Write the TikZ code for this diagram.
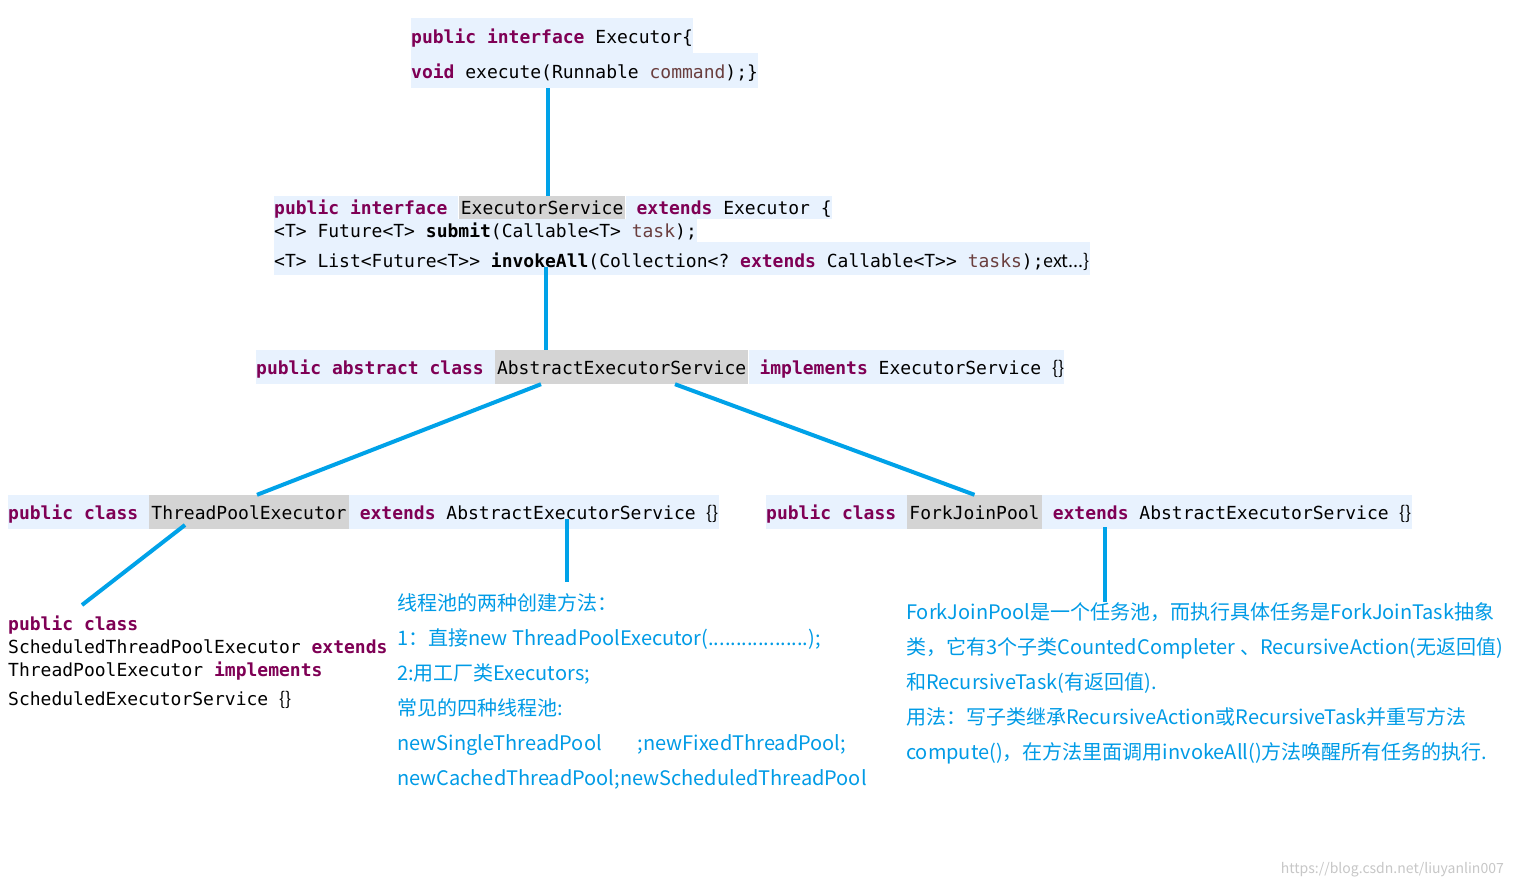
\documentclass[tikz,border=0pt]{standalone}
\usepackage{fontspec}
\usepackage{xcolor}
\newfontfamily\codefont{DejaVu Sans Mono}
\newfontfamily\zhfont{Noto Sans CJK SC}
\definecolor{codebg}{RGB}{232,242,254}
\definecolor{hlgrey}{RGB}{212,212,212}
\definecolor{kwpurple}{RGB}{127,0,85}
\definecolor{prmbrown}{RGB}{106,62,62}
\definecolor{linkblue}{RGB}{0,162,232}
\definecolor{noteblue}{RGB}{0,155,230}
\usetikzlibrary{positioning}
\frenchspacing
\newcommand\kw[1]{{\bfseries\color{kwpurple}#1}}
\newcommand\prm[1]{{\color{prmbrown}#1}}
\newcommand\cgap{\hphantom{x}}
\newcommand\dgt{>\kern0pt>}
\tikzset{
  codeln/.style 2 args={font=\fontsize{18}{22}\codefont, fill=codebg, inner sep=0pt,
    text height=#1, text depth=#2, anchor=base west},
  hlword/.style={fill=hlgrey, inner xsep=2pt},
  plaincode/.style={font=\fontsize{18}{22}\codefont, inner sep=0pt, anchor=base west},
  note/.style={font=\fontsize{20}{24}\zhfont, text=noteblue, inner sep=0pt, anchor=base west},
  link/.style={draw=linkblue, line width=4pt},
}

\begin{document}
\begin{tikzpicture}[x=1pt, y=-1pt]
    \path[fill=white, use as bounding box] (0,0) rectangle (1513,886);

    % Executor
    \node[codeln={25pt}{10pt}] (ex1) at (411,43) {\kw{public interface} Executor\{};
    \node[codeln={25pt}{10pt}] (ex2) at (411,78) {\kw{void} execute(Runnable \prm{command});\}};

    % ExecutorService
    \node[codeln={18pt}{5pt}] (es1a) at (274,214) {\kw{public interface}\cgap};
    \node[codeln={18pt}{5pt}, hlword, right=0pt of es1a] (es1b) {ExecutorService};
    \node[codeln={18pt}{5pt}, right=0pt of es1b] (es1c) {\cgap\kw{extends} Executor \{\hspace{6pt}};
    \node[codeln={18pt}{5pt}] (es2) at (274,237) {<T> Future<T> \textbf{submit}(Callable<T> \prm{task});};
    \node[codeln={25pt}{8pt}] (es3) at (274,267)
      {<T> List<Future<T\dgt{} \textbf{invokeAll}(Collection<? \kw{extends} Callable<T\dgt{} \prm{tasks});{\zhfont ext...\}}};

    % AbstractExecutorService
    \node[codeln={24pt}{10pt}] (ab1) at (256,374) {\kw{public abstract class}\cgap};
    \node[codeln={24pt}{10pt}, hlword, right=0pt of ab1] (ab2) {AbstractExecutorService};
    \node[codeln={24pt}{10pt}, right=0pt of ab2] (ab3) {\cgap\kw{implements} ExecutorService {\zhfont\{\}}};

    % ThreadPoolExecutor
    \node[codeln={24pt}{10pt}] (tp1) at (8,519) {\kw{public class}\cgap};
    \node[codeln={24pt}{10pt}, hlword, right=0pt of tp1] (tp2) {ThreadPoolExecutor};
    \node[codeln={24pt}{10pt}, right=0pt of tp2] (tp3) {\cgap\kw{extends} AbstractExecutorService {\zhfont\{\}}\hspace{3pt}};

    % ForkJoinPool
    \node[codeln={24pt}{10pt}] (fj1) at (766,519) {\kw{public class}\cgap};
    \node[codeln={24pt}{10pt}, hlword, right=0pt of fj1] (fj2) {ForkJoinPool};
    \node[codeln={24pt}{10pt}, right=0pt of fj2] (fj3) {\cgap\kw{extends} AbstractExecutorService {\zhfont\{\}}\hspace{3pt}};

    % ScheduledThreadPoolExecutor
    \node[plaincode] (st1) at (8,630) {\kw{public class}};
    \node[plaincode] (st2) at (8,653) {ScheduledThreadPoolExecutor \kw{extends}};
    \node[plaincode] (st3) at (8,676) {ThreadPoolExecutor \kw{implements}};
    \node[plaincode] (st4) at (8,705) {ScheduledExecutorService {\zhfont\{\}}};

    % notes on thread pools
    \node[note] (pool1) at (397,610) {线程池的两种创建方法：};
    \node[note] (pool2) at (397,645) {1：直接new ThreadPoolExecutor(..................);};
    \node[note] (pool3) at (397,680) {2:用工厂类Executors;};
    \node[note] (pool4) at (397,715) {常见的四种线程池:};
    \node[note] (pool5) at (397,750) {newSingleThreadPool\hspace{36pt};newFixedThreadPool;};
    \node[note] (pool6) at (397,785) {newCachedThreadPool;newScheduledThreadPool};

    % notes on ForkJoinPool
    \node[note] (fjn1) at (906,619) {ForkJoinPool是一个任务池，而执行具体任务是ForkJoinTask抽象};
    \node[note] (fjn2) at (906,654) {类，它有3个子类CountedCompleter 、RecursiveAction(无返回值)};
    \node[note] (fjn3) at (906,689) {和RecursiveTask(有返回值).};
    \node[note] (fjn4) at (906,724) {用法：写子类继承RecursiveAction或RecursiveTask并重写方法};
    \node[note] (fjn5) at (906,759) {compute()，在方法里面调用invokeAll()方法唤醒所有任务的执行.};

    \node[font=\fontsize{14}{16}\zhfont, text=black!22, inner sep=0pt, anchor=base east] (mark) at (1504,873)
      {https://blog.csdn.net/liuyanlin007};

    % connectors
    \coordinate (stend) at (82,605);
    \coordinate (poolend) at (567,582);
    \draw[link] (548,0 |- ex2.south) -- (548,0 |- es1a.north);
    \draw[link] (546,0 |- es3.base) -- (546,0 |- ab2.north);
    \draw[link] (541,0 |- ab2.south) -- (257,0 |- tp2.north);
    \draw[link] (675,0 |- ab2.south) -- (fj2.north);
    \draw[link] (185,0 |- tp2.base) ++(0,6) -- (stend);
    \draw[link] (567,0 |- tp3.base) -- (poolend);
    \draw[link] (1105,0 |- fj3.base) ++(0,8) -- (1105,0 |- fjn1.north);
\end{tikzpicture}
\end{document}
